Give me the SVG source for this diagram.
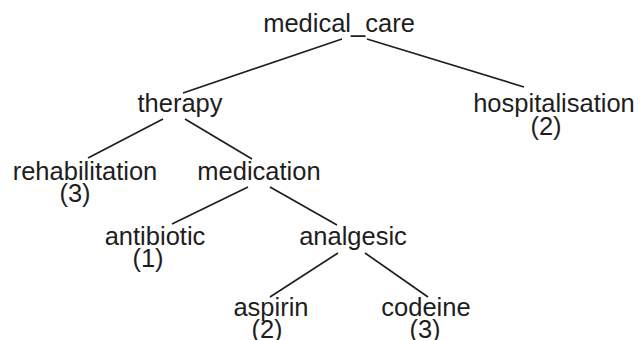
<svg xmlns="http://www.w3.org/2000/svg" width="641" height="340" viewBox="0 0 641 340">
  <style>
    text { font-family: "Liberation Sans", Arial, sans-serif; font-size: 25.5px; fill: #1e1e1e; text-anchor: middle; }
    .edge { stroke: #1e1e1e; stroke-width: 1.7; fill: none; }
  </style>
  <rect width="641" height="340" fill="#ffffff"/>
  <g id="connectors">
    <line class="edge" x1="342" y1="39" x2="183" y2="93"/>
    <line class="edge" x1="367" y1="39" x2="524" y2="87"/>
    <line class="edge" x1="163" y1="119" x2="88" y2="158"/>
    <line class="edge" x1="185" y1="119" x2="252" y2="159"/>
    <line class="edge" x1="248" y1="187" x2="172" y2="224"/>
    <line class="edge" x1="270" y1="187" x2="337" y2="225"/>
    <line class="edge" x1="338" y1="253" x2="270" y2="297"/>
    <line class="edge" x1="365" y1="253" x2="428" y2="297"/>
  </g>
  <g id="medical_care"><text x="339" y="32">medical_care</text></g>
  <g id="therapy"><text x="180" y="112">therapy</text></g>
  <g id="hospitalisation"><text x="554" y="112">hospitalisation</text><text x="546" y="135">(2)</text></g>
  <g id="rehabilitation"><text x="85" y="180">rehabilitation</text><text x="75" y="202">(3)</text></g>
  <g id="medication"><text x="259" y="180">medication</text></g>
  <g id="antibiotic"><text x="155" y="245">antibiotic</text><text x="148" y="267">(1)</text></g>
  <g id="analgesic"><text x="353" y="245">analgesic</text></g>
  <g id="aspirin"><text x="271" y="316">aspirin</text><text x="267" y="338">(2)</text></g>
  <g id="codeine"><text x="426" y="316">codeine</text><text x="425" y="338">(3)</text></g>
</svg>
